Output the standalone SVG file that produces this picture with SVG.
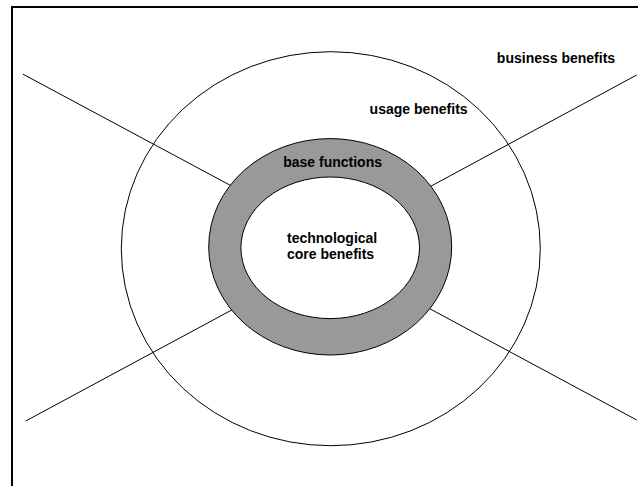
<svg xmlns="http://www.w3.org/2000/svg" width="638" height="486" viewBox="0 0 638 486">
<style>
.ln{stroke:#000;stroke-width:1;fill:none}
.t{font-family:"Liberation Sans",Arial,sans-serif;font-weight:bold;font-size:14px;fill:#000}
</style>
<rect width="638" height="486" fill="#fff"/>
<path d="M12,486 V7 H638" fill="none" stroke="#000" stroke-width="2"/>
<g id="business-benefits">
<text class="t" x="556" y="63" text-anchor="middle">business benefits</text>
</g>
<g id="connectors">
<line class="ln" x1="22.7" y1="74" x2="239" y2="190"/>
<line class="ln" x1="636.7" y1="75" x2="422" y2="191"/>
<line class="ln" x1="25.7" y1="421" x2="241" y2="305"/>
<line class="ln" x1="636.7" y1="420" x2="421" y2="304"/>
</g>
<g id="usage-benefits">
<ellipse class="ln" cx="330.8" cy="248.7" rx="209.5" ry="197"/>
<text class="t" x="418.6" y="113.5" text-anchor="middle">usage benefits</text>
</g>
<g id="base-functions">
<ellipse cx="330.2" cy="246.8" rx="121.5" ry="108.2" fill="#999999" stroke="#000" stroke-width="1"/>
<text class="t" x="332.6" y="166.7" text-anchor="middle">base functions</text>
</g>
<g id="core-benefits">
<ellipse cx="330.2" cy="247.8" rx="89.3" ry="70.8" fill="#fff" stroke="#000" stroke-width="1"/>
<text class="t" x="287" y="242.7">technological</text>
<text class="t" x="287" y="259.3">core benefits</text>
</g>
</svg>
